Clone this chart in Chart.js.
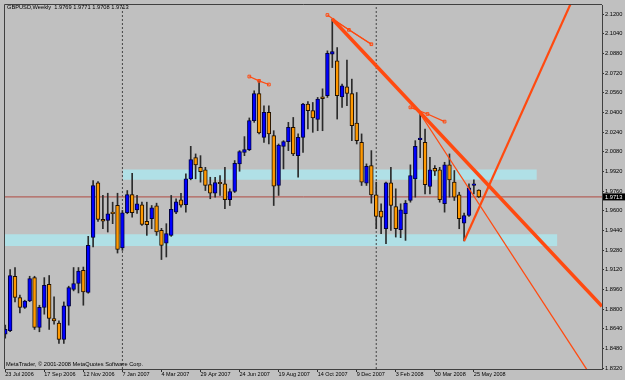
<!DOCTYPE html>
<html>
<head>
<meta charset="utf-8">
<script src="https://cdn.jsdelivr.net/npm/chart.js"></script>
<style>
  html, body { margin: 0; padding: 0; background: #c0c0c0; }
  #chart { display: block; }
</style>
</head>
<body>
<canvas id="chart" width="625" height="380"></canvas>
<script>
// GBPUSD weekly, one bar per week from 23 Jul 2006 to 1 Jun 2008
const symbolTitle = "GBPUSD,Weekly";
const copyrightText = "MetaTrader, \u00a9 2001-2008 MetaQuotes Software Corp.";

const xTickBars = [0, 8, 16, 24, 32, 40, 48, 56, 64, 72, 80, 88, 96];
const xTickLabels = ["23 Jul 2006", "17 Sep 2006", "12 Nov 2006", "7 Jan 2007", "4 Mar 2007",
    "29 Apr 2007", "24 Jun 2007", "19 Aug 2007", "14 Oct 2007", "9 Dec 2007",
    "3 Feb 2008", "30 Mar 2008", "25 May 2008"];
const yTicks = [1.832, 1.848, 1.864, 1.880, 1.896, 1.912, 1.928, 1.944, 1.960, 1.976,
    1.992, 2.008, 2.024, 2.040, 2.056, 2.072, 2.088, 2.104, 2.120];

const openV = [
    1.8596, 1.8623, 1.9067, 1.8894, 1.8813, 1.8866, 1.9056, 1.8650, 1.8813, 1.9002,
    1.8723, 1.8685, 1.8553, 1.8823, 1.8959, 1.9008, 1.9116, 1.8935, 1.9384, 1.9828,
    1.9530, 1.9522, 1.9589, 1.9644, 1.9297, 1.9584, 1.9733, 1.9608, 1.9649, 1.9514,
    1.9535, 1.9641, 1.9440, 1.9337, 1.9400, 1.9589, 1.9690, 1.9649, 1.9860, 2.0033,
    1.9954, 1.9933, 1.9814, 1.9743, 1.9830, 1.9820, 1.9690, 1.9757, 1.9982, 2.0076,
    2.0098, 2.0334, 2.0555, 2.0198, 2.0401, 2.0212, 1.9806, 2.0125, 2.0163, 2.0279,
    2.0049, 2.0198, 2.0469, 2.0415, 2.0344, 2.0528, 2.0537, 2.0875, 2.0821, 2.0528,
    2.0610, 2.0555, 2.0315, 2.0157, 1.9825, 1.9968, 1.9730, 1.9597, 1.9454, 1.9828,
    1.9635, 1.9446, 1.9576, 1.9684, 1.9860, 2.0179, 2.0157, 1.9798, 1.9946, 1.9933,
    1.9657, 1.9974, 1.9833, 1.9730, 1.9500, 1.9562, 1.9806, 1.9769];
const highV = [
    1.8669, 1.9121, 1.9138, 1.8913, 1.8872, 1.9067, 1.9067, 1.8831, 1.9056, 1.9073,
    1.8899, 1.8704, 1.8858, 1.8986, 1.9138, 1.9138, 1.9142, 1.9392, 1.9846, 1.9838,
    1.9725, 1.9743, 1.9670, 1.9743, 1.9603, 1.9765, 1.9906, 1.9725, 1.9670, 1.9670,
    1.9643, 1.9662, 1.9457, 1.9495, 1.9725, 1.9698, 1.9743, 1.9901, 2.0125, 2.0063,
    2.0049, 1.9954, 1.9873, 1.9873, 1.9887, 1.9954, 1.9779, 2.0009, 2.0090, 2.0204,
    2.0356, 2.0577, 2.0658, 2.0455, 2.0455, 2.0252, 2.0144, 2.0171, 2.0320, 2.0360,
    2.0226, 2.0474, 2.0490, 2.0482, 2.0523, 2.0593, 2.0902, 2.1162, 2.0929, 2.0632,
    2.0827, 2.0672, 2.0563, 2.0226, 1.9982, 2.0090, 1.9833, 1.9657, 1.9833, 1.9954,
    1.9779, 1.9657, 1.9684, 1.9974, 2.0171, 2.0390, 2.0266, 2.0036, 1.9968, 1.9954,
    1.9995, 2.0063, 1.9928, 1.9751, 1.9581, 1.9820, 1.9852, 1.9771];
const lowV = [
    1.8563, 1.8616, 1.8858, 1.8769, 1.8805, 1.8860, 1.8634, 1.8615, 1.8758, 1.8634,
    1.8677, 1.8520, 1.8520, 1.8669, 1.8948, 1.8931, 1.8831, 1.8929, 1.9305, 1.9513,
    1.9454, 1.9427, 1.9495, 1.9256, 1.9278, 1.9576, 1.9548, 1.9578, 1.9481, 1.9400,
    1.9454, 1.9400, 1.9203, 1.9224, 1.9392, 1.9576, 1.9630, 1.9589, 1.9852, 1.9860,
    1.9833, 1.9765, 1.9698, 1.9711, 1.9725, 1.9617, 1.9643, 1.9749, 1.9922, 2.0049,
    2.0090, 2.0320, 2.0226, 2.0157, 2.0144, 1.9643, 1.9725, 1.9941, 2.0090, 2.0049,
    1.9873, 2.0076, 2.0266, 2.0239, 2.0252, 2.0252, 2.0523, 2.0766, 2.0347, 2.0442,
    2.0455, 2.0171, 2.0144, 1.9806, 1.9806, 1.9662, 1.9454, 1.9414, 1.9332, 1.9440,
    1.9386, 1.9381, 1.9359, 1.9670, 1.9711, 2.0033, 1.9738, 1.9738, 1.9887, 1.9670,
    1.9589, 1.9711, 1.9684, 1.9454, 1.9354, 1.9554, 1.9738, 1.9708];
const closeV = [
    1.8634, 1.9073, 1.8894, 1.8813, 1.8864, 1.9048, 1.8650, 1.8813, 1.8994, 1.8723,
    1.8704, 1.8553, 1.8826, 1.8975, 1.9008, 1.9110, 1.8939, 1.9319, 1.9806, 1.9530,
    1.9516, 1.9576, 1.9576, 1.9286, 1.9584, 1.9733, 1.9584, 1.9657, 1.9489, 1.9487,
    1.9625, 1.9427, 1.9319, 1.9414, 1.9611, 1.9673, 1.9646, 1.9860, 2.0017, 1.9974,
    1.9919, 1.9806, 1.9743, 1.9830, 1.9820, 1.9690, 1.9757, 1.9987, 2.0082, 2.0098,
    2.0334, 2.0555, 2.0234, 2.0401, 2.0226, 1.9800, 2.0136, 2.0163, 2.0279, 2.0063,
    2.0198, 2.0469, 2.0415, 2.0356, 2.0510, 2.0512, 2.0883, 2.0896, 2.0537, 2.0618,
    2.0555, 2.0293, 2.0171, 1.9833, 1.9963, 1.9730, 1.9554, 1.9548, 1.9828, 1.9643,
    1.9454, 1.9608, 1.9662, 1.9887, 2.0125, 2.0190, 1.9812, 1.9933, 1.9922, 1.9690,
    1.9974, 1.9852, 1.9711, 1.9535, 1.9562, 1.9787, 1.9820, 1.9713];

// support / resistance zones: [low, high] and the bar span they cover
const zoneUpper = [1.9852, 1.9936];
const zoneUpperBars = [24.1, 108.9];
const zoneLower = [1.9313, 1.9408];
const zoneLowerBars = [-0.05, 113.1];

// trend lines drawn on the chart (bar index, price)
const trendMainX = [67, 122.25];
const trendMainY = [2.1162, 1.8823];
const trendThinX = [85, 119.3];
const trendThinY = [2.0390, 1.8298];
const trendUpX = [94, 116.5];
const trendUpY = [1.9354, 2.1345];
const forkAX = [50, 52, 54];
const forkAY = [2.0693, 2.0658, 2.0628];
const forkBX = [66, 70.4, 75];
const forkBY = [2.1194, 2.1073, 2.0956];
const forkB2X = [67, 75];
const forkB2Y = [2.1162, 2.0956];
const forkCX = [83, 86.5, 90];
const forkCY = [2.0442, 2.0388, 2.0326];

// year separators
const separatorBars = [24, 76];

const xMin = -0.051;
const xMax = 122.25;
const yMin = 1.83119;
const yMax = 2.12755;

const last = closeV.length - 1;
const lastClose = closeV[last];
const headerText = symbolTitle + "  " +
    [openV, highV, lowV, closeV].map((a) => a[last].toFixed(4)).join(" ");

const lineColor = "#ff4a10";
const bars = openV.map((_, i) => i);
const isUp = bars.map((i) => closeV[i] > openV[i]);

function lineSet(xs, ys, width, extra) {
    return Object.assign({
        type: "line",
        data: xs.map((x, k) => ({ x, y: ys[k] })),
        borderColor: lineColor,
        borderWidth: width,
        pointRadius: 0,
        fill: false,
        tension: 0,
        order: 0,
    }, extra || {});
}

const forkPoints = {
    pointRadius: 1.9,
    pointStyle: "rect",
    pointBorderColor: lineColor,
    pointBackgroundColor: "rgba(0,0,0,0)",
    pointBorderWidth: 1,
};

function zoneSet(range, span) {
    return {
        type: "line",
        data: span.map((x) => ({ x, y: range[1] })),
        borderWidth: 0,
        pointRadius: 0,
        backgroundColor: "#b0e0e6",
        fill: { value: range[0] },
        order: 5,
    };
}

// text that sits inside the plot, the frame and the price marker on the axis
const overlayText = {
    id: "overlayText",
    afterDraw(chart) {
        const { ctx, chartArea: a } = chart;
        const py = chart.scales.y.getPixelForValue(lastClose);
        ctx.save();
        ctx.strokeStyle = "#404040";
        ctx.lineWidth = 1;
        ctx.beginPath();
        ctx.moveTo(a.left - 0.5, a.bottom);
        ctx.lineTo(a.left - 0.5, a.top - 0.5);
        ctx.lineTo(a.right, a.top - 0.5);
        ctx.stroke();

        ctx.font = '5.7px "Liberation Sans"';
        ctx.textBaseline = "middle";
        ctx.textAlign = "left";
        ctx.fillStyle = "#000";
        ctx.fillText(headerText, a.left + 2, a.top + 2.5);
        ctx.fillText(copyrightText, a.left + 1, a.bottom - 4.7);

        ctx.fillRect(a.right + 1, py - 3.5, chart.width - a.right - 1, 7);
        ctx.fillStyle = "#fff";
        ctx.fillText(lastClose.toFixed(4), a.right + 3, py + 0.3);
        ctx.restore();
    },
};

const tickFont = { family: "Liberation Sans", size: 5.7, lineHeight: 1 };

new Chart(document.getElementById("chart"), {
    type: "bar",
    data: {
        datasets: [
            lineSet(trendMainX, trendMainY, 3.5),
            lineSet(trendThinX, trendThinY, 1.3),
            lineSet(trendUpX, trendUpY, 2.2),
            lineSet(forkAX, forkAY, 1.2, forkPoints),
            lineSet(forkBX, forkBY, 1.2, forkPoints),
            lineSet(forkB2X, forkB2Y, 1.2),
            lineSet(forkCX, forkCY, 1.2, forkPoints),
            {
                type: "bar",
                data: bars.map((i) => ({ x: i, y: [openV[i], closeV[i]] })),
                backgroundColor: isUp.map((u) => (u ? "#0000ff" : "#ff9900")),
                borderColor: isUp.map((u) => (u ? "#000040" : "#201000")),
                borderWidth: 1,
                borderSkipped: false,
                barThickness: 3.8,
                minBarLength: 1.5,
                grouped: false,
                order: 1,
            },
            {
                type: "bar",
                data: bars.map((i) => ({ x: i, y: [lowV[i], highV[i]] })),
                backgroundColor: "#2a2a2a",
                borderWidth: 0,
                barThickness: 1,
                grouped: false,
                order: 2,
            },
            lineSet([xMin, xMax], [lastClose, lastClose], 1, { borderColor: "#b04a40", order: 3 }),
            ...separatorBars.map((b) =>
                lineSet([b, b], [yMin, yMax], 1, { borderColor: "#454545", borderDash: [2, 2], order: 4 })),
            zoneSet(zoneUpper, zoneUpperBars),
            zoneSet(zoneLower, zoneLowerBars),
        ],
    },
    options: {
        responsive: false,
        animation: false,
        devicePixelRatio: 1,
        events: [],
        layout: { padding: { left: 2, top: 4, right: 0, bottom: 0 } },
        plugins: {
            legend: { display: false },
            tooltip: { enabled: false },
            title: { display: false },
        },
        scales: {
            x: {
                type: "linear",
                position: "bottom",
                min: xMin,
                max: xMax,
                bounds: "data",
                offset: false,
                afterBuildTicks: (s) => { s.ticks = xTickBars.map((v) => ({ value: v })); },
                afterFit: (s) => { s.height = 11; },
                ticks: {
                    autoSkip: false,
                    maxRotation: 0,
                    minRotation: 0,
                    align: "start",
                    padding: 0,
                    color: "#000",
                    font: { family: "Liberation Sans", size: 5.5, lineHeight: 1 },
                    callback: (v, i) => xTickLabels[i],
                },
                grid: { drawOnChartArea: false, tickLength: 3, color: "#303030", offset: false },
                border: { display: true, color: "#404040", width: 1 },
            },
            y: {
                type: "linear",
                position: "right",
                min: yMin,
                max: yMax,
                bounds: "data",
                afterBuildTicks: (s) => { s.ticks = yTicks.map((v) => ({ value: v })); },
                afterFit: (s) => { s.width = 23; },
                ticks: {
                    padding: 1,
                    color: "#000",
                    font: tickFont,
                    callback: (v) => v.toFixed(4),
                },
                grid: { drawOnChartArea: false, tickLength: 2, color: "#303030" },
                border: { display: true, color: "#404040", width: 1 },
            },
        },
    },
    plugins: [overlayText],
});
</script>
</body>
</html>
